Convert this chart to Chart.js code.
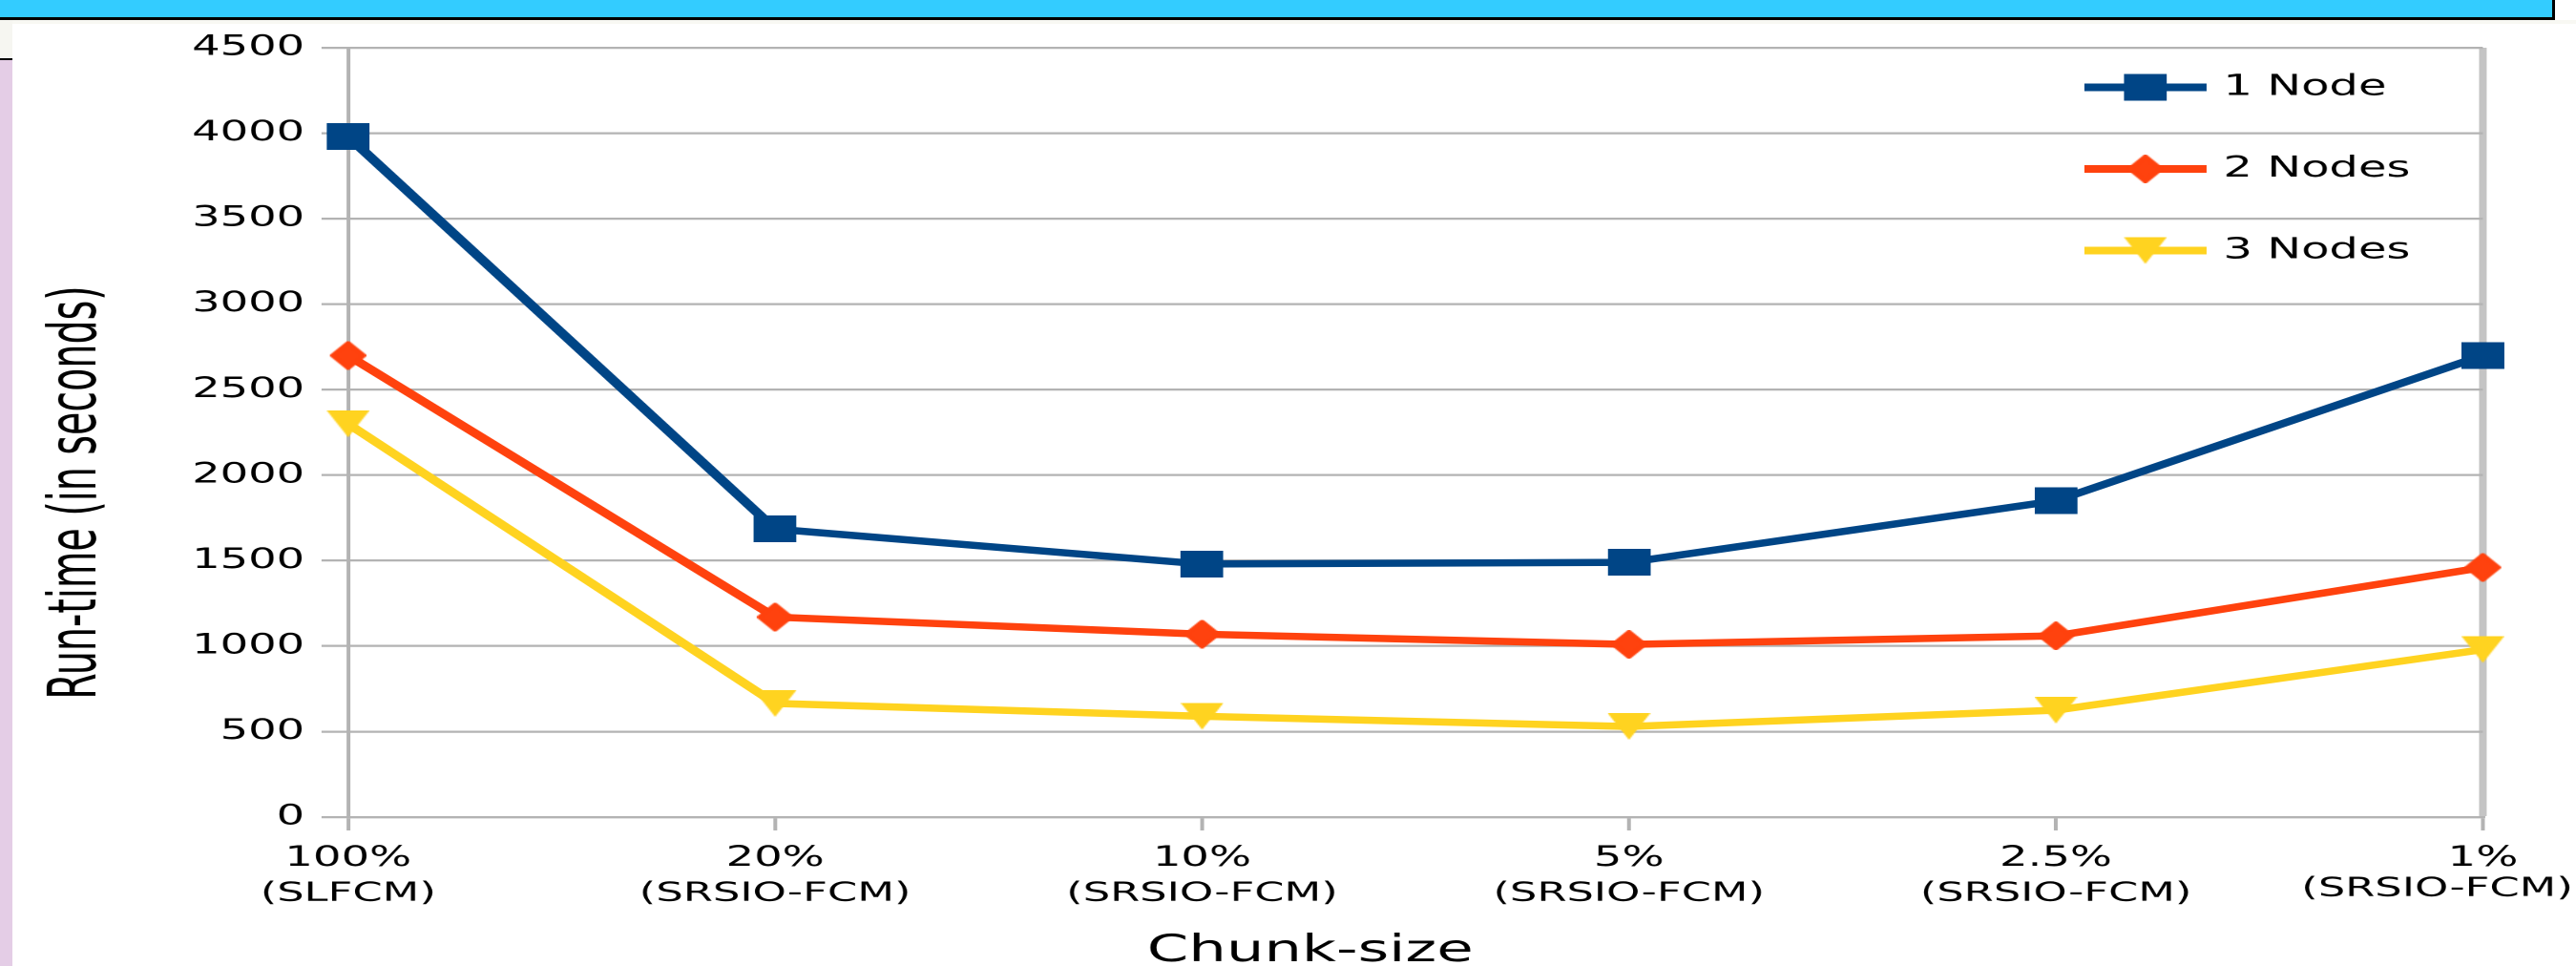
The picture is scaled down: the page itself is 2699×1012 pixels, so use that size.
<!DOCTYPE html>
<html>
<head>
<meta charset="utf-8">
<title>Run-time vs chunk-size</title>
<script src="https://cdn.jsdelivr.net/npm/chart.js@4.4.1/dist/chart.umd.min.js"></script>
<style>
  html, body { margin: 0; padding: 0; background: #fff; width: 2699px; height: 1012px; overflow: hidden; }
  /* the chart is laid out on a narrower stage and widened horizontally */
  #stage { position: absolute; left: 0; top: 0; width: 1687px; height: 1012px;
           transform: scaleX(1.59988); transform-origin: 0 0; }
  #stage canvas { display: block; }
  #topbar { position: absolute; left: 0; top: 0; width: 2674px; height: 18px; background: #33ccff;
            border-bottom: 3px solid #000; border-right: 3px solid #000; z-index: 3; }
  #band { position: absolute; left: 0; top: 21px; width: 2699px; height: 4px; background: #f8f8f3; z-index: 2; }
  #sideTop { position: absolute; left: 0; top: 21px; width: 13px; height: 40px; background: #f6f6f1; z-index: 2; }
  #sideRule { position: absolute; left: 0; top: 61px; width: 13px; height: 2px; background: #000; z-index: 2; }
  #side { position: absolute; left: 0; top: 63px; width: 13px; height: 949px; background: #e4cde6; z-index: 2; }
</style>
</head>
<body>
<div id="stage"><canvas id="chart"></canvas></div>
<div id="topbar"></div>
<div id="band"></div>
<div id="sideTop"></div>
<div id="sideRule"></div>
<div id="side"></div>
<script>
// Chunk sizes on the x axis and the method used for each
const chunkSizes = ['100%', '20%', '10%', '5%', '2.5%', '1%'];
const methods = ['(SLFCM)', '(SRSIO-FCM)', '(SRSIO-FCM)', '(SRSIO-FCM)', '(SRSIO-FCM)', '(SRSIO-FCM)'];

// Run-time in seconds per cluster size
const oneNode    = [3980, 1685, 1480, 1490, 1850, 2700];
const twoNodes   = [2700, 1170, 1070, 1010, 1060, 1460];
const threeNodes = [2300,  665,  590,  530,  625,  980];
const seriesNames = ['1 Node', '2 Nodes', '3 Nodes'];

// Value axis ticks
const yMin = 0;
const yMax = 4500;
const yStep = 500;

const xTitle = 'Chunk-size';
const yTitle = 'Run-time (in seconds)';

const colors = ['#004586', '#ff420e', '#ffd320'];

// Marker bitmaps: square, diamond, downward triangle
function makeMarker(kind, color) {
  const c = document.createElement('canvas');
  const w = kind === 'diamond' ? 24 : 28;
  const h = kind === 'diamond' ? 30 : 28;
  c.width = w; c.height = h;
  const g = c.getContext('2d');
  g.fillStyle = color;
  g.strokeStyle = color;
  g.lineJoin = 'round';
  g.beginPath();
  if (kind === 'square') {
    g.rect(0, 0, w, h);
  } else if (kind === 'diamond') {
    g.moveTo(w / 2, 1.5); g.lineTo(w - 1.5, h / 2); g.lineTo(w / 2, h - 1.5); g.lineTo(1.5, h / 2);
  } else {
    g.moveTo(0, 0); g.lineTo(w, 0); g.lineTo(w / 2, h);
  }
  g.closePath();
  g.fill();
  if (kind === 'diamond') { g.lineWidth = 3; g.stroke(); }
  return c;
}
const markers = [
  makeMarker('square', colors[0]),
  makeMarker('diamond', colors[1]),
  makeMarker('triangle', colors[2])
];

// Legend drawn inside the plot, upper right
const insideLegend = {
  id: 'insideLegend',
  afterDraw(chart) {
    const { ctx, chartArea: a } = chart;
    ctx.save();
    ctx.font = "30px 'DejaVu Sans'";
    ctx.textBaseline = 'middle';
    ctx.textAlign = 'left';
    chart.data.datasets.forEach((ds, i) => {
      const y = a.top + 41.5 + i * 85.5;
      const x0 = a.right - 261, x1 = a.right - 181;
      ctx.strokeStyle = ds.borderColor;
      ctx.lineWidth = 8;
      ctx.beginPath(); ctx.moveTo(x0, y); ctx.lineTo(x1, y); ctx.stroke();
      const m = ds.pointStyle;
      ctx.drawImage(m, (x0 + x1) / 2 - m.width / 2, y - m.height / 2);
      ctx.fillStyle = '#000';
      ctx.fillText(ds.label, a.right - 170, y);
    });
    ctx.restore();
  }
};

// Second line of each category label: the method name
const methodLabels = {
  id: 'methodLabels',
  afterDraw(chart) {
    const xs = chart.scales.x, ctx = chart.ctx;
    ctx.save();
    ctx.font = "28px 'DejaVu Sans'";
    ctx.fillStyle = '#000';
    ctx.textAlign = 'center';
    ctx.textBaseline = 'middle';
    methods.forEach((t, i) => {
      const w = ctx.measureText(t).width;
      const x = Math.min(xs.getPixelForValue(i), chart.width - w / 2 - 2);
      const dy = i === methods.length - 1 ? 75 : 80;
      ctx.fillText(t, x, chart.chartArea.bottom + dy);
    });
    ctx.restore();
  }
};

// Axis titles
const axisTitles = {
  id: 'axisTitles',
  afterDraw(chart) {
    const { ctx, chartArea: a } = chart;
    ctx.save();
    ctx.fillStyle = '#000';
    ctx.textAlign = 'center';
    ctx.textBaseline = 'alphabetic';
    ctx.font = "39px 'DejaVu Sans'";
    ctx.fillText(xTitle, (a.left + a.right) / 2 - 69, chart.height - 5);
    ctx.translate(62.5, (a.top + a.bottom) / 2 + 63);
    ctx.rotate(-Math.PI / 2);
    ctx.font = "44px 'Liberation Sans Narrow', 'DejaVu Sans Condensed', sans-serif";
    ctx.fillText(yTitle, 0, 0);
    ctx.restore();
  }
};

const lastIndex = chunkSizes.length - 1;

new Chart(document.getElementById('chart'), {
  type: 'line',
  data: {
    labels: chunkSizes,
    datasets: [oneNode, twoNodes, threeNodes].map((values, i) => ({
      label: seriesNames[i],
      data: values,
      borderColor: colors[i],
      backgroundColor: colors[i],
      borderWidth: 7.5,
      pointStyle: markers[i],
      pointRadius: 14,
      pointHoverRadius: 14,
      tension: 0,
      fill: false,
      clip: false
    }))
  },
  options: {
    responsive: true,
    maintainAspectRatio: false,
    animation: false,
    devicePixelRatio: 2,
    events: [],
    layout: { padding: { left: 0, right: 61, top: 50, bottom: 0 } },
    plugins: {
      legend: { display: false },
      tooltip: { enabled: false }
    },
    scales: {
      x: {
        type: 'category',
        offset: false,
        grid: {
          drawOnChartArea: true,
          drawTicks: true,
          tickLength: 14,
          tickColor: '#b3b3b3',
          tickWidth: 2.5,
          color: c => (c.index === lastIndex ? '#c4c4c4' : 'rgba(0,0,0,0)'),
          lineWidth: c => (c.index === lastIndex ? 5 : 2.5)
        },
        border: { display: true, color: '#b3b3b3', width: 2.3 },
        ticks: {
          font: { family: 'DejaVu Sans', size: 29 },
          color: '#000',
          padding: 12,
          maxRotation: 0,
          autoSkip: false
        },
        afterFit: s => { s.height = 156; }
      },
      y: {
        min: yMin,
        max: yMax,
        ticks: {
          stepSize: yStep,
          font: { family: 'DejaVu Sans', size: 29 },
          color: '#000',
          padding: 11,
          callback: v => String(v)
        },
        grid: { color: '#b3b3b3', lineWidth: 2.3, tickLength: 17.5, drawTicks: true },
        border: { display: true, color: '#b3b3b3', width: 2.5 },
        afterFit: s => { s.width = 228; }
      }
    }
  },
  plugins: [axisTitles, methodLabels, insideLegend]
});
</script>
</body>
</html>
